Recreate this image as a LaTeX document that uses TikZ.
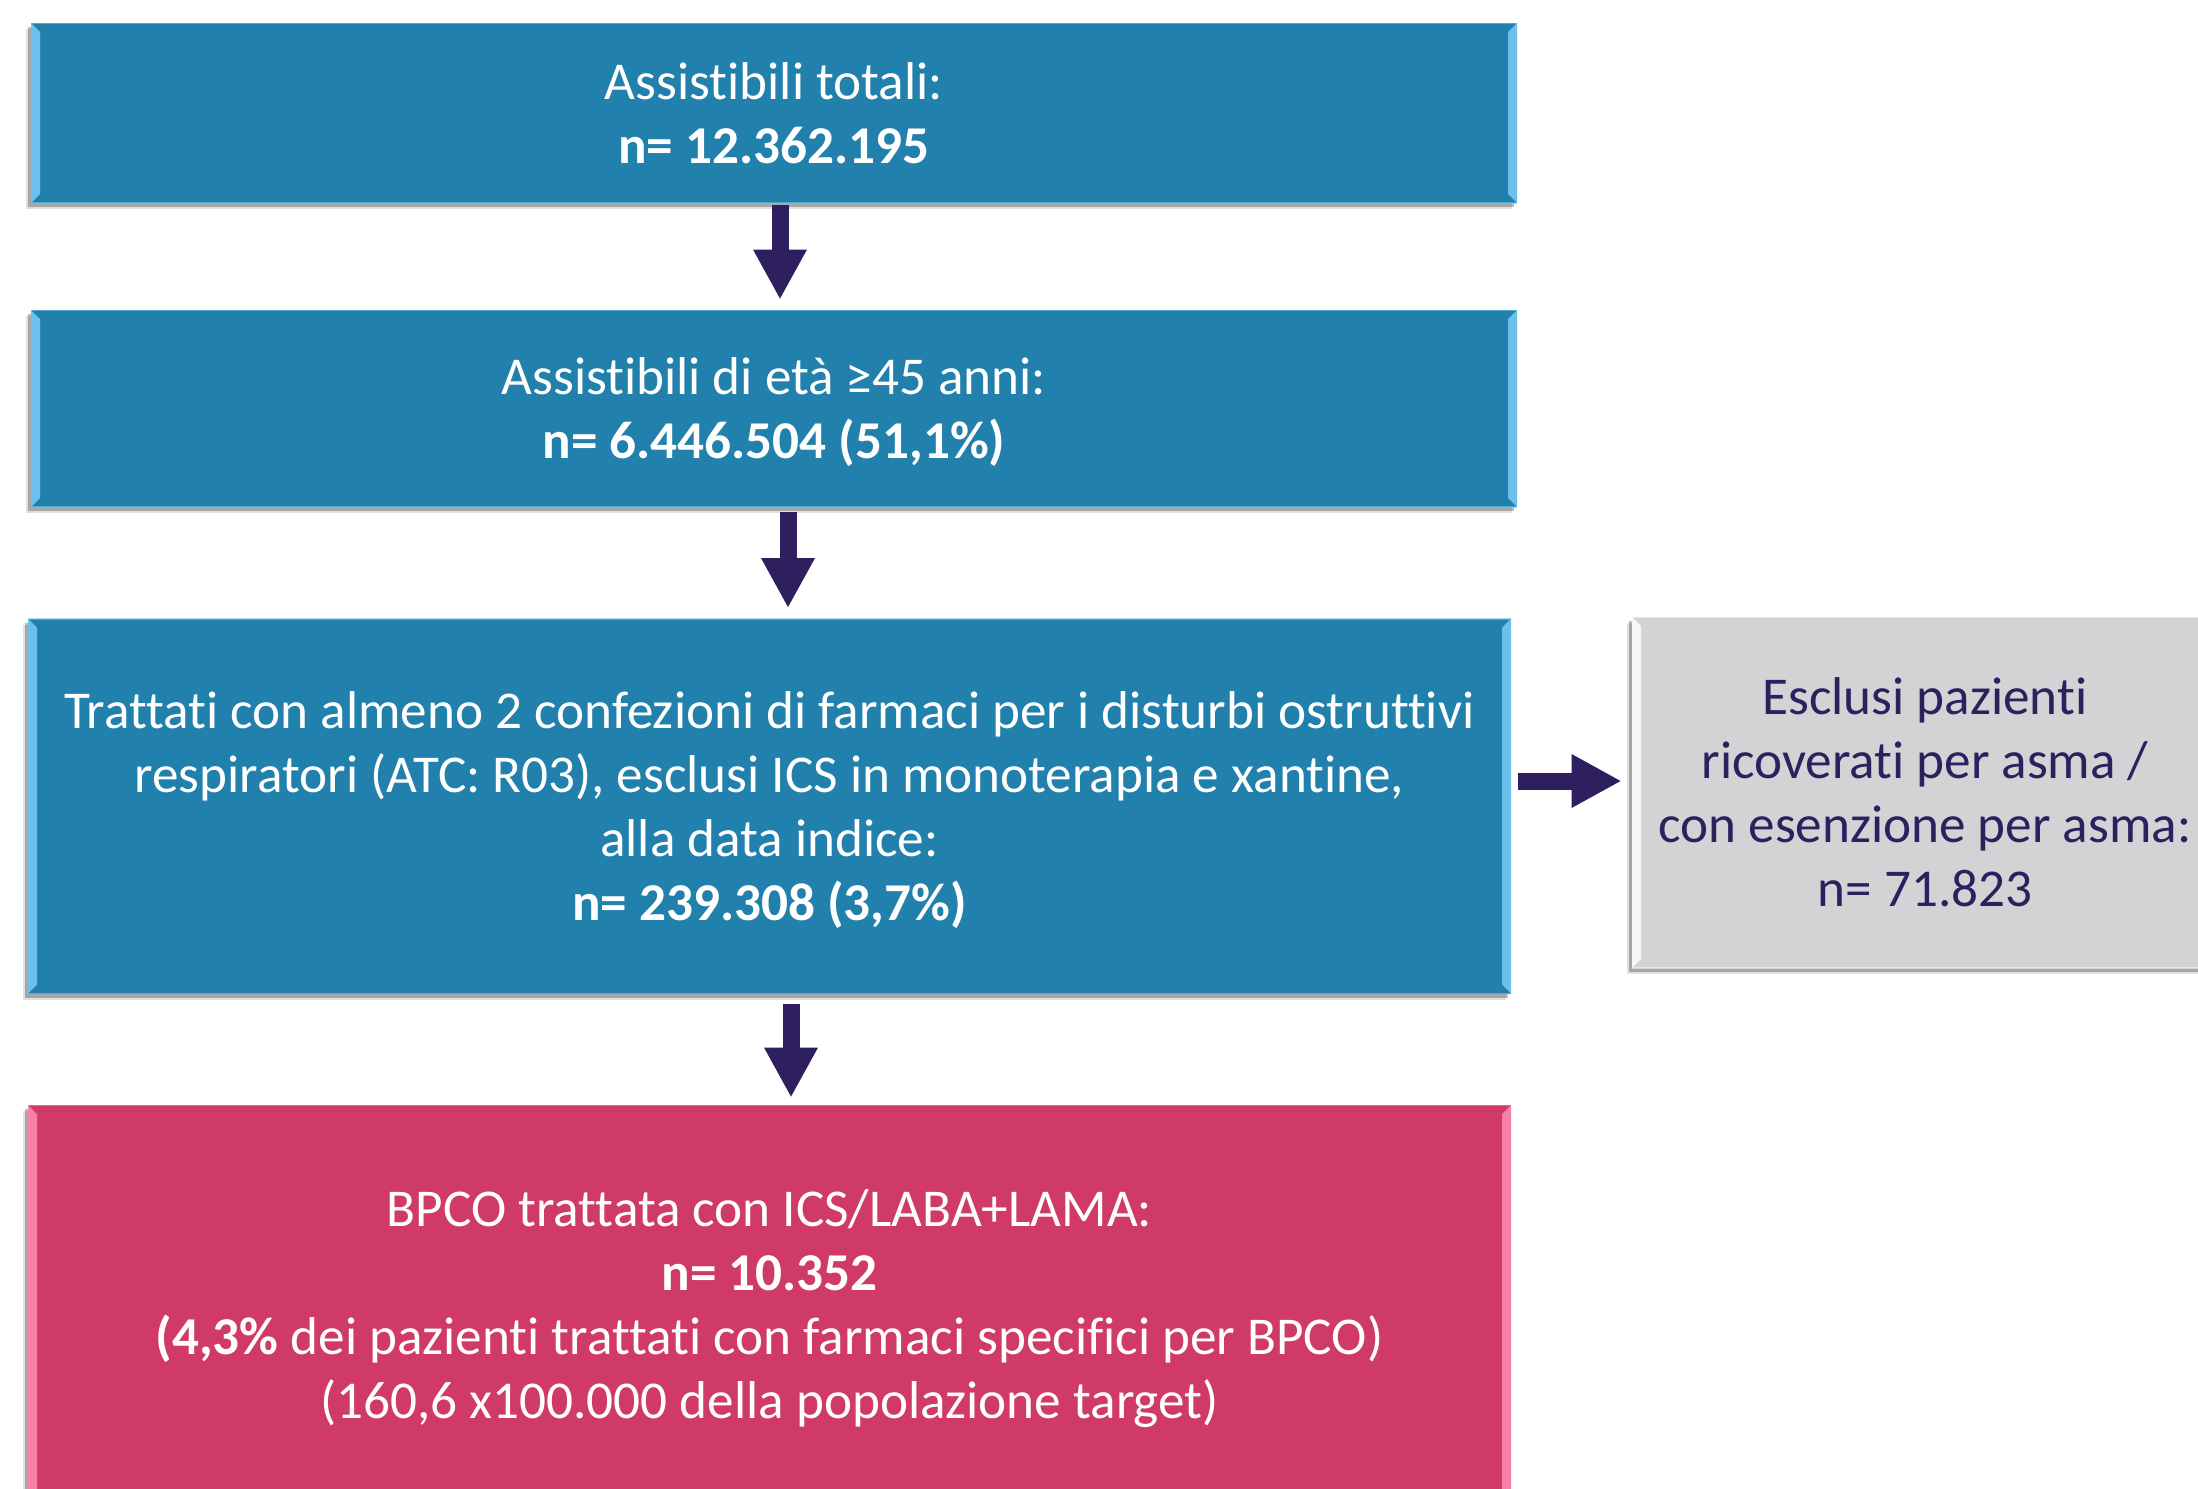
\documentclass[tikz,border=0pt]{standalone}
\usepackage{fontspec}
\setmainfont{Carlito}[Ligatures={NoCommon,NoContextual,NoRare}, Contextuals={NoAlternate}]
\usetikzlibrary{arrows.meta,shadows,calc}
\definecolor{boxblue}{RGB}{33,128,172}
\definecolor{bevelblue}{RGB}{110,192,236}
\definecolor{boxpink}{RGB}{208,58,102}
\definecolor{bevelpink}{RGB}{246,128,168}
\definecolor{boxgrey}{RGB}{211,211,214}
\definecolor{bevelgrey}{RGB}{246,246,248}
\definecolor{navy}{RGB}{46,31,94}
\tikzset{
  flowbox/.style={rectangle, inner sep=0pt, align=center,
    font=\fontsize{26.6}{32}\selectfont,
    drop shadow={shadow xshift=-2.5pt, shadow yshift=-3pt, fill=black, opacity=0.12},
    drop shadow={shadow xshift=-1.5pt, shadow yshift=-2pt, fill=black, opacity=0.25}},
  bevel/.style={path picture={
    \fill[#1] (path picture bounding box.north west) -- ++(4.5pt,-4.5pt)
      -- ($(path picture bounding box.south west)+(4.5pt,4.5pt)$)
      -- (path picture bounding box.south west) -- cycle;
    \fill[#1] (path picture bounding box.north east) -- ++(-4.5pt,-4.5pt)
      -- ($(path picture bounding box.south east)+(-4.5pt,4.5pt)$)
      -- (path picture bounding box.south east) -- cycle;
    \draw[#1, line width=1pt, opacity=0.6] (path picture bounding box.north west) -- (path picture bounding box.north east);
    \draw[#1, line width=1pt, opacity=0.6] (path picture bounding box.south west) -- (path picture bounding box.south east);
  }},
  bluebox/.style={flowbox, fill=boxblue, text=white, bevel=bevelblue, text depth=0pt},
  pinkbox/.style={flowbox, fill=boxpink, text=white, bevel=bevelpink, text depth=0pt},
  greybox/.style={flowbox, fill=boxgrey, text=navy, bevel=bevelgrey},
  arr/.style={draw=navy, line width=8.5pt, -{Triangle[width=25pt, length=25pt]}}
}
\begin{document}
\begin{tikzpicture}[x=0.5pt, y=-0.5pt]
\useasboundingbox (0,0) rectangle (2198,1488);
\clip (0,0) rectangle (2198,1488);
\fill[white] (0,0) rectangle (2198,1488);

\node[bluebox, minimum width=743pt, minimum height=90pt] (b1) at (774,113)
  {Assistibili totali:\\\textbf{n= 12.362.195}};
\node[bluebox, minimum width=743pt, minimum height=98.5pt] (b2) at (774,408.5)
  {Assistibili di età ≥45 anni:\\\textbf{n= 6.446.504 (51,1\%)}};
\node[bluebox, minimum width=741.5pt, minimum height=187.5pt] (b3) at (769.5,806)
  {Trattati con almeno 2 confezioni di farmaci per i disturbi ostruttivi\\
   respiratori (ATC: R03), esclusi ICS in monoterapia e xantine,\\
   alla data indice:\\
   \textbf{n= 239.308 (3,7\%)}};
\node[greybox, minimum width=293pt, minimum height=175.5pt] (b5) at (1925,792.5)
  {Esclusi pazienti\\ricoverati per asma /\\con esenzione per asma:\\n= 71.823};
\node[pinkbox, minimum width=741.5pt, minimum height=199pt] (b4) at (769.5,1304)
  {BPCO trattata con ICS/LABA+LAMA:\\
   \textbf{n= 10.352}\\
   \textbf{(4,3\%} dei pazienti trattati con farmaci specifici per BPCO)\\
   (160,6 x100.000 della popolazione target)};

\draw[arr, shorten <=1pt, shorten >=5pt] ($(b1.south)+(6,0)$) -- ($(b2.north)+(6,0)$);
\draw[arr, shorten <=2.5pt, shorten >=5pt] ($(b2.south)+(14,0)$) -- ($(b3.north)+(18.5,0)$);
\draw[arr, shorten <=5pt, shorten >=3.5pt] ($(b3.south)+(21.5,0)$) -- ($(b4.north)+(21.5,0)$);
\draw[arr, shorten <=3.5pt, shorten >=5pt] ($(b3.east)+(0,-25)$) -- ($(b5.west)+(0,-11.5)$);
\end{tikzpicture}
\end{document}
